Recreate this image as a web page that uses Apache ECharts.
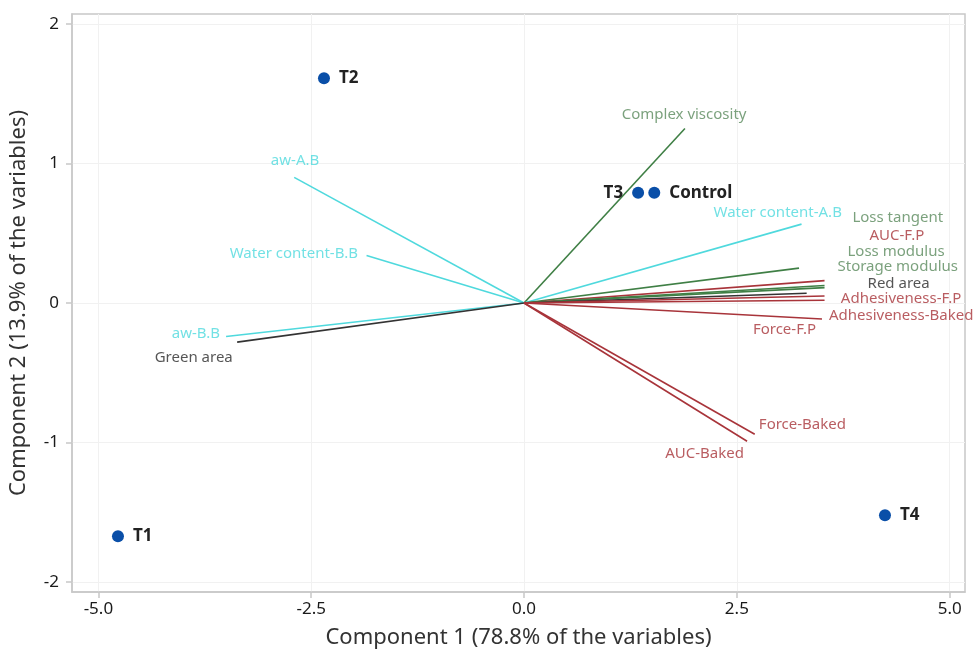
<!DOCTYPE html>
<html>
<head>
<meta charset="utf-8">
<script src="https://cdn.jsdelivr.net/npm/echarts@6/dist/echarts.min.js"></script>
<style>html,body{margin:0;padding:0;background:#fff}#c{width:977px;height:649px}</style>
</head>
<body>
<div id="c"></div>
<script>
// Observations (scores)
const obsNames = ['T1', 'T2', 'T3', 'Control', 'T4'];
const obsX = [-4.77, -2.35, 1.34, 1.53, 4.24];
const obsY = [-1.67, 1.61, 0.79, 0.79, -1.52];

// Variables (loadings)
const varNames = ['Complex viscosity', 'aw-A.B', 'Water content-B.B', 'aw-B.B', 'Green area',
  'Water content-A.B', 'Loss tangent', 'AUC-F.P', 'Loss modulus', 'Storage modulus', 'Red area',
  'Adhesiveness-F.P', 'Force-F.P', 'Adhesiveness-Baked', 'Force-Baked', 'AUC-Baked'];
const varX = [1.89, -2.70, -1.85, -3.50, -3.37, 3.26, 3.23, 3.53, 3.53, 3.53, 3.32, 3.53, 3.53, 3.50, 2.71, 2.62];
const varY = [1.25, 0.90, 0.34, -0.24, -0.28, 0.565, 0.25, 0.16, 0.125, 0.11, 0.07, 0.05, 0.02, -0.115, -0.94, -0.99];
const varGroup = ['green', 'cyan', 'cyan', 'cyan', 'black', 'cyan', 'green', 'red', 'green', 'green', 'black',
  'red', 'red', 'red', 'red', 'red'];
// Label anchor points (data units)
const labelX = [1.88, -2.69, -1.95, -3.57, -3.88, 2.98, 4.39, 4.38, 4.37, 4.39, 4.40, 4.43, 3.06, 4.43, 3.27, 2.12];
const labelY = [1.35, 1.02, 0.35, -0.22, -0.39, 0.65, 0.61, 0.48, 0.365, 0.26, 0.135, 0.03, -0.19, -0.09, -0.87, -1.08];
const labelAlign = ['center', 'center', 'right', 'right', 'center', 'center', 'center', 'center', 'center',
  'center', 'center', 'center', 'center', 'center', 'center', 'center'];

const xTicks = [-5, -2.5, 0, 2.5, 5];
const yTicks = [-2, -1, 0, 1, 2];

const lineColors = { cyan: '#4fd9dd', green: '#3f7f45', red: '#a8343a', black: '#333333' };
const textColors = { cyan: '#4fd9dd', green: '#5a8a5c', red: '#a8343a', black: '#2a2a2a' };
const FONT = 'Noto Sans';

const series = [];
// grid lines
series.push({
  type: 'line', data: [], silent: true, z: 0,
  markLine: {
    silent: true, symbol: 'none', label: { show: false }, z: 0,
    lineStyle: { color: '#f1f1f1', width: 1, type: 'solid' },
    data: xTicks.map(v => ({ xAxis: v })).concat(yTicks.map(v => ({ yAxis: v })))
  }
});
varNames.forEach((n, i) => {
  series.push({
    type: 'line', name: n, symbol: 'none', silent: true, z: 3,
    data: [[0, 0], [varX[i], varY[i]]],
    lineStyle: { color: lineColors[varGroup[i]], width: 1.6 }
  });
});
series.push({
  type: 'scatter', symbolSize: 0, silent: true, z: 4,
  data: varNames.map((n, i) => ({
    name: n, value: [labelX[i], labelY[i]],
    label: { align: labelAlign[i], color: textColors[varGroup[i]] }
  })),
  label: {
    show: true, position: 'inside', formatter: p => p.name,
    fontFamily: FONT, fontSize: 15, verticalAlign: 'middle'
  }
});
series.push({
  type: 'scatter', symbolSize: 12, z: 5,
  itemStyle: { color: '#0a4fa8', opacity: 1 },
  data: obsNames.map((n, i) => ({
    name: n, value: [obsX[i], obsY[i]],
    label: { position: n === 'T3' ? 'left' : 'right' }
  })),
  label: {
    show: true, formatter: p => p.name, distance: 9,
    fontFamily: FONT, fontSize: 17, fontWeight: 'bold', color: '#222'
  }
});

const chart = echarts.init(document.getElementById('c'));
chart.setOption({
  animation: false,
  backgroundColor: '#fff',
  grid: { left: 72, right: 12, top: 14, bottom: 57, show: true, borderColor: '#c8c8c8', borderWidth: 1.5,
    containLabel: false, outerBoundsMode: 'none' },
  xAxis: {
    type: 'value', min: -5.31, max: 5.18,
    name: 'Component 1 (78.8% of the variables)', nameLocation: 'middle', nameGap: 35,
    nameTextStyle: { fontFamily: FONT, fontSize: 22, color: '#333' },
    axisLine: { show: true, onZero: false, lineStyle: { color: '#c8c8c8', width: 1.5 } },
    axisTick: { show: true, length: 6, lineStyle: { color: '#c8c8c8', width: 1.5 }, customValues: xTicks },
    axisLabel: { fontFamily: FONT, fontSize: 17, color: '#1a1a1a', margin: 9, customValues: xTicks, formatter: v => v.toFixed(1) },
    splitLine: { show: false }
  },
  yAxis: {
    type: 'value', min: -2.07, max: 2.07,
    name: 'Component 2 (13.9% of the variables)', nameLocation: 'middle', nameGap: 42,
    nameTextStyle: { fontFamily: FONT, fontSize: 22, color: '#333' },
    axisLine: { show: true, onZero: false, lineStyle: { color: '#c8c8c8', width: 1.5 } },
    axisTick: { show: true, length: 6, lineStyle: { color: '#c8c8c8', width: 1.5 }, customValues: yTicks },
    axisLabel: { fontFamily: FONT, fontSize: 17, color: '#1a1a1a', margin: 13, customValues: yTicks, formatter: v => String(v) },
    splitLine: { show: false }
  },
  series: series
});
</script>
</body>
</html>
